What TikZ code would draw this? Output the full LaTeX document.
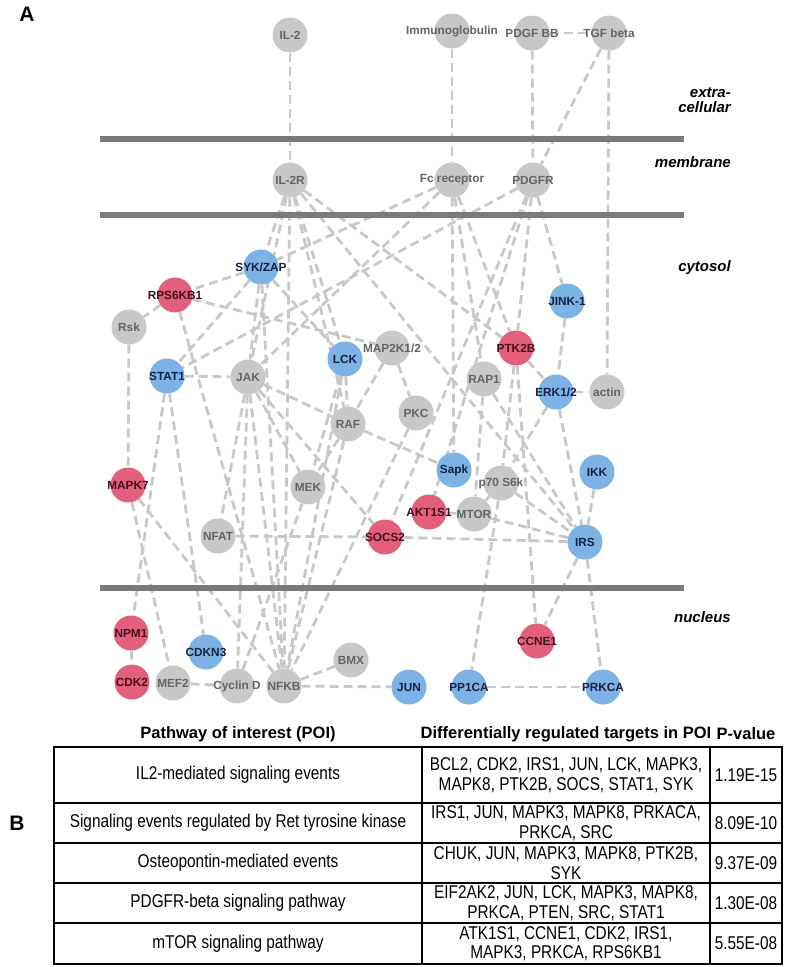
\documentclass[tikz,border=0pt]{standalone}
\usepackage{fontspec}
\setmainfont{Liberation Sans}
\newfontfamily\narrowfont[FakeStretch=0.83]{Liberation Sans}
\usetikzlibrary{backgrounds}
\definecolor{ndgray}{RGB}{200,200,200}
\definecolor{ndblue}{RGB}{125,178,228}
\definecolor{ndred}{RGB}{226,96,124}
\definecolor{txgray}{RGB}{100,100,100}
\definecolor{txblue}{RGB}{22,34,64}
\definecolor{txred}{RGB}{72,14,32}
\definecolor{edgec}{RGB}{200,200,200}
\definecolor{barc}{RGB}{122,122,122}
\newcommand{\gnd}[4]{\node[gnode,label={[glbl]center:#4}] (#1) at (#2,#3) {};}
\newcommand{\bnd}[4]{\node[bnode,label={[blbl]center:#4}] (#1) at (#2,#3) {};}
\newcommand{\rnd}[4]{\node[rnode,label={[rlbl]center:#4}] (#1) at (#2,#3) {};}
\begin{document}
\begin{tikzpicture}[x=1pt,y=-1pt,
  nd/.style={circle, minimum size=35pt, inner sep=0pt},
  gnode/.style={nd, fill=ndgray},
  bnode/.style={nd, fill=ndblue},
  rnode/.style={nd, fill=ndred},
  lblfont/.style={font=\fontsize{11.8}{12}\selectfont\bfseries, inner sep=0pt},
  glbl/.style={lblfont, text=txgray},
  blbl/.style={lblfont, text=txblue},
  rlbl/.style={lblfont, text=txred},
  link/.style={draw=edgec, line width=2.8pt, dash pattern=on 9pt off 5pt},
  bar/.style={draw=barc, line width=6pt},
  region/.style={font=\fontsize{15}{15.5}\selectfont\bfseries\itshape, anchor=east, align=right, inner sep=0pt},
  panel/.style={font=\fontsize{21}{22}\selectfont\bfseries, inner sep=0pt},
  head/.style={font=\fontsize{16.5}{18}\selectfont\bfseries, inner sep=0pt},
  cell/.style={font=\narrowfont\fontsize{18.5}{19.5}\selectfont, align=center, inner sep=0pt},
  tab/.style={draw=black, line width=1.3pt}
]
\useasboundingbox (0,0) rectangle (785,967);

% nodes
\gnd{il2}{290}{35}{IL-2}
\gnd{ig}{452}{31}{Immunoglobulin}
\gnd{pdgfbb}{532}{33}{PDGF BB}
\gnd{tgf}{609}{33}{TGF beta}
\gnd{il2r}{290}{180}{IL-2R}
\gnd{fc}{452}{180}{Fc receptor}
\gnd{pdgfr}{533}{180}{PDGFR}
\bnd{syk}{261}{267}{SYK/ZAP}
\rnd{rps}{175}{295}{RPS6KB1}
\gnd{rsk}{129}{327}{Rsk}
\bnd{stat1}{167}{376}{STAT1}
\gnd{jak}{248}{377}{JAK}
\bnd{lck}{345}{359}{LCK}
\gnd{map2k}{392}{348}{MAP2K1/2}
\gnd{pkc}{416}{413}{PKC}
\gnd{raf}{348}{424}{RAF}
\gnd{rap1}{484}{379}{RAP1}
\rnd{ptk2b}{516}{348}{PTK2B}
\bnd{jink}{567}{301}{JINK-1}
\bnd{erk}{556}{392}{ERK1/2}
\gnd{actin}{607}{392}{actin}
\bnd{sapk}{454}{470}{Sapk}
\gnd{p70}{501}{483}{p70 S6k}
\bnd{ikk}{597}{472}{IKK}
\gnd{mek}{308}{487}{MEK}
\rnd{mapk7}{128}{485}{MAPK7}
\rnd{akt}{429}{512}{AKT1S1}
\gnd{mtor}{474}{514}{MTOR}
\gnd{nfat}{218}{536}{NFAT}
\rnd{socs2}{385}{537}{SOCS2}
\bnd{irs}{585}{542}{IRS}
\rnd{npm1}{131}{633}{NPM1}
\bnd{cdkn3}{206}{652}{CDKN3}
\rnd{ccne1}{537}{641}{CCNE1}
\rnd{cdk2}{132}{682}{CDK2}
\gnd{mef2}{173}{683}{MEF2}
\gnd{cycd}{237}{686}{Cyclin D}
\gnd{nfkb}{284}{686}{NFKB}
\gnd{bmx}{351}{660}{BMX}
\bnd{jun}{409}{687}{JUN}
\bnd{pp1ca}{469}{687}{PP1CA}
\bnd{prkca}{603}{687}{PRKCA}

\begin{scope}[on background layer]
  % extracellular / membrane
  \draw[link] (il2) -- (il2r);
  \draw[link] (ig) -- (fc);
  \draw[link] (pdgfbb) -- (tgf);
  \draw[link] (pdgfbb) -- (pdgfr);
  \draw[link] (tgf) -- (pdgfr);
  \draw[link] (tgf) -- (actin);
  % IL-2R
  \draw[link] (il2r) -- (syk);
  \draw[link] (il2r) -- (jak);
  \draw[link] (il2r) -- (nfkb);
  \draw[link] (il2r) -- (raf);
  \draw[link] (il2r) -- (lck);
  \draw[link] (il2r) -- (irs);
  \draw[link] (il2r) -- (ptk2b);
  % Fc receptor
  \draw[link] (fc) -- (syk);
  \draw[link] (fc) -- (jak);
  \draw[link] (fc) -- (sapk);
  \draw[link] (fc) -- (rap1);
  \draw[link] (fc) -- (ptk2b);
  % PDGFR
  \draw[link] (pdgfr) -- (stat1);
  \draw[link] (pdgfr) -- (socs2);
  \draw[link] (pdgfr) -- (akt);
  \draw[link] (pdgfr) -- (ptk2b);
  \draw[link] (pdgfr) -- (jink);
  % cytosol
  \draw[link] (syk) -- (rps);
  \draw[link] (syk) -- (stat1);
  \draw[link] (syk) -- (lck);
  \draw[link] (syk) -- (jak);
  \draw[link] (syk) -- (nfkb);
  \draw[link] (rps) -- (rsk);
  \draw[link] (rps) -- (map2k);
  \draw[link] (rps) -- (nfkb);
  \draw[link] (rsk) -- (mapk7);
  \draw[link] (stat1) -- (jak);
  \draw[link] (stat1) -- (npm1);
  \draw[link] (stat1) -- (cdkn3);
  \draw[link] (jak) -- (nfat);
  \draw[link] (jak) -- (cycd);
  \draw[link] (jak) -- (nfkb);
  \draw[link] (jak) -- (mek);
  \draw[link] (jak) -- (raf);
  \draw[link] (jak) -- (socs2);
  \draw[link] (lck) -- (raf);
  \draw[link] (lck) -- (nfkb);
  \draw[link] (lck) -- (mek);
  \draw[link] (map2k) -- (raf);
  \draw[link] (map2k) -- (pkc);
  \draw[link] (pkc) -- (nfkb);
  \draw[link] (raf) -- (mek);
  \draw[link] (raf) -- (nfkb);
  \draw[link] (raf) -- (sapk);
  \draw[link] (rap1) -- (mtor);
  \draw[link] (rap1) -- (irs);
  \draw[link] (ptk2b) -- (erk);
  \draw[link] (ptk2b) -- (p70);
  \draw[link] (ptk2b) -- (ccne1);
  \draw[link] (jink) -- (erk);
  \draw[link] (erk) -- (actin);
  \draw[link] (erk) -- (irs);
  \draw[link] (erk) -- (p70);
  \draw[link] (p70) -- (mtor);
  \draw[link] (p70) -- (irs);
  \draw[link] (p70) -- (pp1ca);
  \draw[link] (mtor) -- (akt);
  \draw[link] (mtor) -- (irs);
  \draw[link] (ikk) -- (irs);
  \draw[link] (irs) -- (socs2);
  \draw[link] (irs) -- (ccne1);
  \draw[link] (irs) -- (prkca);
  \draw[link] (nfat) -- (socs2);
  \draw[link] (mapk7) -- (mef2);
  \draw[link] (mapk7) -- (nfkb);
  \draw[link] (npm1) -- (cdk2);
  \draw[link] (mef2) -- (cycd);
  \draw[link] (cycd) -- (mek);
  \draw[link] (nfkb) -- (bmx);
  \draw[link] (nfkb) -- (jun);
  \draw[link] (pp1ca) -- (prkca);
  % compartment bars
  \draw[bar] (100,139) -- (684,139);
  \draw[bar] (100,215) -- (684,215);
  \draw[bar] (100,588) -- (684,588);
\end{scope}

% region labels
\node[region] (rext) at (731,100) {extra-\\cellular};
\node[region] (rmem) at (731,162) {membrane};
\node[region] (rcyt) at (731,268) {cytosol};
\node[region] (rnuc) at (731,617) {nucleus};

% panel letters
\node[panel] (pa) at (27,14) {A};
\node[panel] (pb) at (17,823) {B};

% table
\node[head] (h1) at (238,734) {Pathway of interest (POI)};
\node[head] (h2) at (566,734) {Differentially regulated targets in POI};
\node[head] (h3) at (746,734) {P-value};
\draw[tab] (54,747) rectangle (782,964);
\draw[tab] (54,803) -- (782,803);
\draw[tab] (54,843) -- (782,843);
\draw[tab] (54,883) -- (782,883);
\draw[tab] (54,923) -- (782,923);
\draw[tab] (422,747) -- (422,964);
\draw[tab] (710,747) -- (710,964);

\node[cell] (a1) at (238,775) {IL2-mediated signaling events};
\node[cell] (b1) at (566,775) {BCL2, CDK2, IRS1, JUN, LCK, MAPK3,\\MAPK8, PTK2B, SOCS, STAT1, SYK};
\node[cell] (c1) at (746,775) {1.19E-15};
\node[cell] (a2) at (238,823) {Signaling events regulated by Ret tyrosine kinase};
\node[cell] (b2) at (566,823) {IRS1, JUN, MAPK3, MAPK8, PRKACA,\\PRKCA, SRC};
\node[cell] (c2) at (746,823) {8.09E-10};
\node[cell] (a3) at (238,863) {Osteopontin-mediated events};
\node[cell] (b3) at (566,863) {CHUK, JUN, MAPK3, MAPK8, PTK2B,\\SYK};
\node[cell] (c3) at (746,863) {9.37E-09};
\node[cell] (a4) at (238,903) {PDGFR-beta signaling pathway};
\node[cell] (b4) at (566,903) {EIF2AK2, JUN, LCK, MAPK3, MAPK8,\\PRKCA, PTEN, SRC, STAT1};
\node[cell] (c4) at (746,903) {1.30E-08};
\node[cell] (a5) at (238,943.5) {mTOR signaling pathway};
\node[cell] (b5) at (566,943.5) {ATK1S1, CCNE1, CDK2, IRS1,\\MAPK3, PRKCA, RPS6KB1};
\node[cell] (c5) at (746,943.5) {5.55E-08};
\end{tikzpicture}
\end{document}
